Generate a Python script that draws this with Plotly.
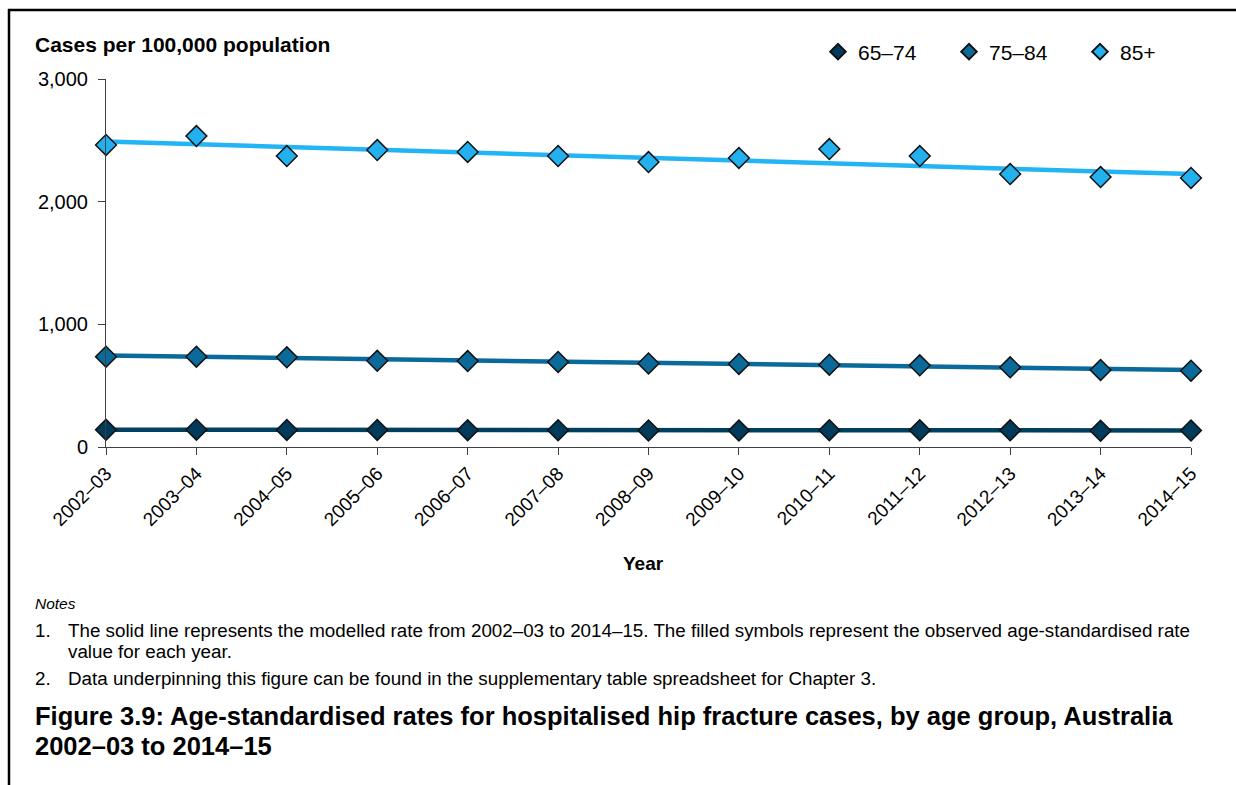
import plotly.graph_objects as go

years = ["2002–03", "2003–04", "2004–05", "2005–06", "2006–07", "2007–08", "2008–09",
         "2009–10", "2010–11", "2011–12", "2012–13", "2013–14", "2014–15"]

obs_65_74 = [140, 141, 139, 139, 137, 137, 135, 135, 137, 136, 136, 133, 134]
obs_75_84 = [736, 736, 731, 703, 701, 693, 681, 677, 671, 666, 650, 628, 622]
obs_85p = [2462, 2535, 2372, 2421, 2405, 2372, 2323, 2356, 2429, 2372, 2225, 2201, 2193]

model_65_74 = [141, 140, 140, 139, 139, 138, 138, 137, 137, 136, 136, 135, 135]
model_75_84 = [745, 735, 725, 715, 705, 695, 685, 675, 666, 656, 647, 638, 628]
model_85p = [2490, 2467, 2445, 2422, 2400, 2378, 2356, 2334, 2312, 2290, 2268, 2246, 2225]

series_names = ["65–74", "75–84", "85+"]
line_colors = ["#003F5E", "#0A6A9C", "#22B4F5"]
marker_colors = ["#003B5C", "#0B6A9A", "#22B1EE"]

FONT = "Arial, Liberation Sans, sans-serif"
W, H = 1236, 785
L, R, T, B = 106, 45, 79, 338
PW = W - L - R
PH = H - T - B


def px(x):
    return (x - L) / PW


def py(y):
    return (H - B - y) / PH


fig = go.Figure()

for name, model, lc in zip(series_names, [model_65_74, model_75_84, model_85p], line_colors):
    fig.add_trace(go.Scatter(x=years, y=model, mode="lines", line=dict(color=lc, width=4.5),
                             showlegend=False, hoverinfo="skip", cliponaxis=False))

for name, obs, mc in zip(series_names, [obs_65_74, obs_75_84, obs_85p], marker_colors):
    fig.add_trace(go.Scatter(x=years, y=obs, mode="markers", name=name,
                             marker=dict(symbol="diamond", size=16, color=mc,
                                         line=dict(color="#111111", width=1.5)),
                             cliponaxis=False))

NOTE = 18.8
TITLE = 25.5
annotations = [
    dict(x=px(33), y=py(45), text="<b>Cases per 100,000 population</b>", xanchor="left",
         yanchor="middle", font=dict(size=21, color="#000000")),
    dict(x=px(643), y=py(563), text="<b>Year</b>", xanchor="center", yanchor="middle",
         font=dict(size=19, color="#000000")),
    dict(x=px(33), y=py(603), text="<i>Notes</i>", xanchor="left", yanchor="middle",
         font=dict(size=15.5, color="#000000")),
    dict(x=px(33), y=py(630), text="1.", xanchor="left", yanchor="middle",
         font=dict(size=NOTE, color="#000000")),
    dict(x=px(66), y=py(630),
         text="The solid line represents the modelled rate from 2002–03 to 2014–15. The filled symbols represent the observed age-standardised rate",
         xanchor="left", yanchor="middle", font=dict(size=NOTE, color="#000000")),
    dict(x=px(66), y=py(651), text="value for each year.", xanchor="left", yanchor="middle",
         font=dict(size=NOTE, color="#000000")),
    dict(x=px(33), y=py(678), text="2.", xanchor="left", yanchor="middle",
         font=dict(size=NOTE, color="#000000")),
    dict(x=px(66), y=py(678),
         text="Data underpinning this figure can be found in the supplementary table spreadsheet for Chapter 3.",
         xanchor="left", yanchor="middle", font=dict(size=NOTE, color="#000000")),
    dict(x=px(33), y=py(716),
         text="<b>Figure 3.9: Age-standardised rates for hospitalised hip fracture cases, by age group, Australia</b>",
         xanchor="left", yanchor="middle", font=dict(size=TITLE, color="#000000")),
    dict(x=px(33), y=py(746), text="<b>2002–03 to 2014–15</b>", xanchor="left", yanchor="middle",
         font=dict(size=TITLE, color="#000000")),
]
for a in annotations:
    a.update(xref="paper", yref="paper", showarrow=False)

shapes = [
    dict(type="line", xref="paper", yref="paper", x0=px(8), x1=px(1240), y0=py(10), y1=py(10),
         line=dict(color="#000000", width=2.5)),
    dict(type="line", xref="paper", yref="paper", x0=px(9), x1=px(9), y0=py(9), y1=py(790),
         line=dict(color="#000000", width=2.5)),
]

fig.update_layout(
    width=W, height=H,
    margin=dict(l=L, r=R, t=T, b=B, autoexpand=False),
    paper_bgcolor="white", plot_bgcolor="white",
    font=dict(family=FONT, color="#000000"),
    showlegend=True,
    legend=dict(orientation="h", x=px(818), y=py(52), xanchor="left", yanchor="middle",
                font=dict(size=21, color="#000000"), entrywidth=86, entrywidthmode="pixels",
                itemsizing="constant", itemclick=False, bgcolor="rgba(0,0,0,0)", tracegroupgap=0),
    annotations=annotations,
    shapes=shapes,
    xaxis=dict(type="category", range=[0, len(years) - 1], showgrid=False, zeroline=False,
               showline=True, linecolor="#404040", linewidth=1,
               ticks="outside", ticklen=7, tickcolor="#404040", tickangle=-45,
               tickfont=dict(size=19, color="#000000")),
    yaxis=dict(range=[0, 3000], tickvals=[0, 1000, 2000, 3000], tickformat=",d",
               showgrid=False, zeroline=False, showline=True, linecolor="#404040", linewidth=1,
               ticks="outside", ticklen=7, tickcolor="#404040", ticklabelstandoff=6,
               tickfont=dict(size=20, color="#000000")),
)

fig.write_html("out.html", config={"displayModeBar": False},
               post_script="document.body.style.margin='0';document.body.style.overflow='hidden';")
